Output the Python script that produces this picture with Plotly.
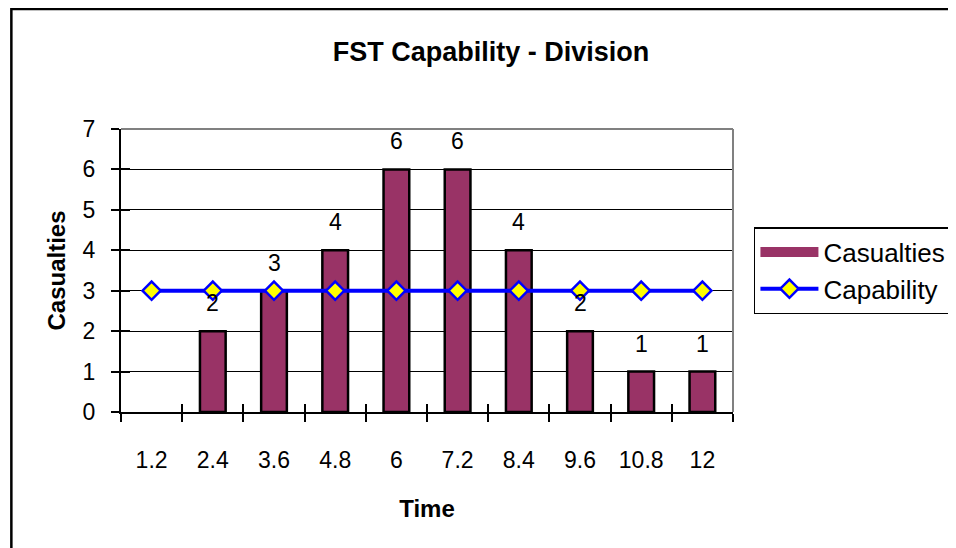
import plotly.graph_objects as go

categories = ["1.2", "2.4", "3.6", "4.8", "6", "7.2", "8.4", "9.6", "10.8", "12"]
casualties = [0, 2, 3, 4, 6, 6, 4, 2, 1, 1]
capability = [3, 3, 3, 3, 3, 3, 3, 3, 3, 3]
y_ticks = [0, 1, 2, 3, 4, 5, 6, 7]

FONT = "Liberation Sans, Arial, sans-serif"
BAR_COLOR = "#993366"

# figure sits at an 8px page offset; plot area 113..727 x 121..404
L, T, R, B = 113, 121, 727, 404
W, H = 956, 548
PW, PH = R - L, B - T

fig = go.Figure()
fig.add_trace(go.Bar(
    x=categories, y=casualties, name="Casualties", showlegend=False,
    marker=dict(color=BAR_COLOR,
                line=dict(color="black",
                          width=[0 if v == 0 else 2.5 for v in casualties])),
    width=0.42,
))
# legend entry for the bars (wide swatch like the original)
fig.add_trace(go.Scatter(
    x=[None], y=[None], name="Casualties", mode="lines",
    line=dict(color=BAR_COLOR, width=13),
))
fig.add_trace(go.Scatter(
    x=categories, y=capability, name="Capability", mode="lines+markers",
    line=dict(color="#0000FF", width=4),
    marker=dict(symbol="diamond", size=14, color="#FFFF00",
                line=dict(color="#0000FF", width=2.5)),
))
# invisible trace for the overlay axes (inside half of the crossing ticks)
fig.add_trace(go.Scatter(x=categories, y=capability, xaxis="x2", yaxis="y2",
                         mode="markers", marker=dict(opacity=0),
                         showlegend=False, hoverinfo="skip"))

# data labels above bars
for i, v in enumerate(casualties):
    if v == 0:
        continue
    fig.add_annotation(x=i, y=v, xref="x", yref="y", text=str(v),
                       showarrow=False, yshift=28, yanchor="middle",
                       font=dict(family=FONT, size=23, color="black"))

axis_common = dict(linecolor="black", linewidth=2, tickcolor="black",
                   tickwidth=1.5, ticklen=8)

fig.update_layout(
    width=W, height=H,
    margin=dict(l=L, r=W - R, t=T, b=H - B),
    paper_bgcolor="white", plot_bgcolor="white",
    font=dict(family=FONT, size=23, color="black"),
    title=dict(text="<b>FST Capability - Division</b>", x=483 / W,
               xref="container", xanchor="center",
               y=1 - 44 / H, yref="container", yanchor="middle",
               font=dict(family=FONT, size=27, color="black")),
    xaxis=dict(type="category", categoryorder="array", categoryarray=categories,
               range=[-0.5, 9.5], showline=True, ticks="outside",
               tickson="boundaries", showgrid=False, ticklabelstandoff=26,
               tickfont=dict(size=23),
               title=dict(text="<b>Time</b>", standoff=29,
                          font=dict(family=FONT, size=24)),
               **axis_common),
    yaxis=dict(range=[0, 7], tickvals=y_ticks, showline=True, ticks="outside",
               showgrid=True, gridcolor="black", gridwidth=1, zeroline=False,
               ticklabelstandoff=11, tickfont=dict(size=23),
               title=dict(text="<b>Casualties</b>", standoff=10,
                          font=dict(family=FONT, size=24)),
               **axis_common),
    xaxis2=dict(type="category", categoryorder="array", categoryarray=categories,
                range=[-0.5, 9.5], overlaying="x", ticks="inside",
                tickson="boundaries", showticklabels=False, showgrid=False,
                showline=False, tickcolor="black", tickwidth=1.5, ticklen=8),
    yaxis2=dict(range=[0, 7], tickvals=y_ticks, overlaying="y", ticks="inside",
                showticklabels=False, showgrid=False, showline=False,
                zeroline=False, tickcolor="black", tickwidth=1.5, ticklen=9),
    legend=dict(x=(748 - L) / PW, xanchor="left",
                y=(B - 219) / PH, yanchor="top",
                bordercolor="black", borderwidth=1.5, bgcolor="white",
                font=dict(family=FONT, size=26), itemwidth=58,
                entrywidth=150, tracegroupgap=0),
    showlegend=True,
)

# plot-area border (gray top & right)
fig.add_shape(type="line", xref="paper", yref="paper", x0=0, x1=1, y0=1, y1=1,
              line=dict(color="#808080", width=2), layer="above")
fig.add_shape(type="line", xref="paper", yref="paper", x0=1, x1=1, y0=0, y1=1,
              line=dict(color="#808080", width=2), layer="above")
# chart outer border
fig.add_shape(type="rect", xref="paper", yref="paper",
              x0=(3 - L) / PW, x1=(980 - L) / PW,
              y0=(B - 580) / PH, y1=(B - 1) / PH,
              line=dict(color="black", width=2.5), layer="above")

fig.write_html("out.html")
